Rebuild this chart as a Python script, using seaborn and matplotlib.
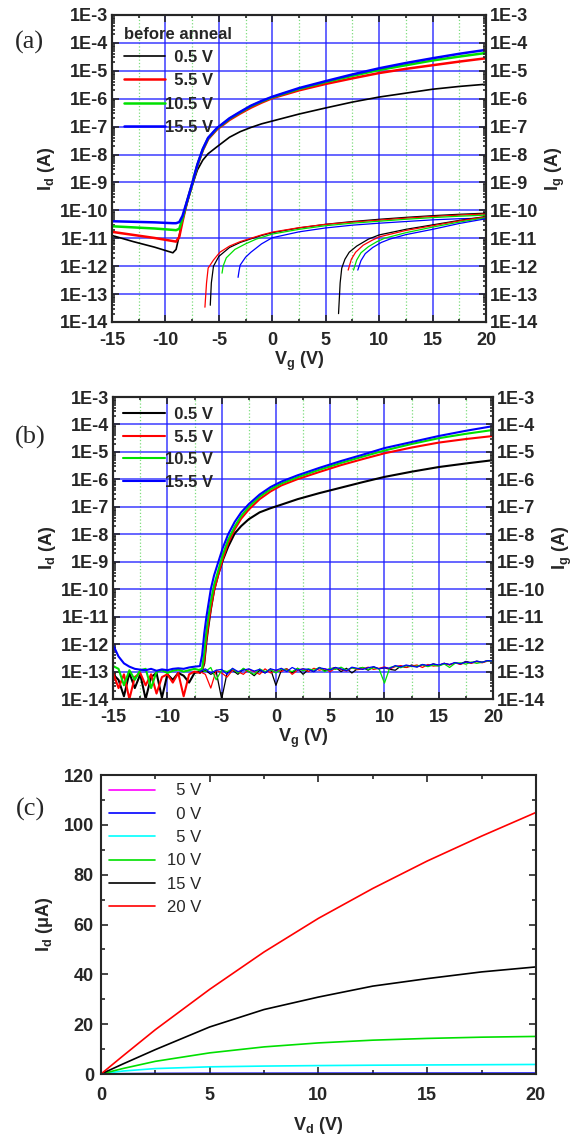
import numpy as np
import matplotlib
matplotlib.use("Agg")
import matplotlib.pyplot as plt
import seaborn as sns
from matplotlib.ticker import (MultipleLocator, FixedLocator, FuncFormatter,
                               LogLocator, NullFormatter)

sns.set_style("ticks")
plt.rcParams['font.family'] = ['Liberation Sans', 'DejaVu Sans']
plt.rcParams['font.weight'] = 'bold'
plt.rcParams['axes.unicode_minus'] = False
plt.rcParams['mathtext.fontset'] = 'custom'
plt.rcParams['mathtext.rm'] = 'Liberation Sans:bold'
plt.rcParams['mathtext.it'] = 'Liberation Sans:bold'
plt.rcParams['mathtext.default'] = 'rm'

# ---------------- data: panel (a), log10 of current ----------------
vd_labels = ["  0.5 V", "  5.5 V", "10.5 V", "15.5 V"]
colors4 = ["black", "#ff0000", "#00e000", "#0000ff"]

vg_a = [-15, -13, -11, -9.3, -9, -8.7, -8.4, -8, -7.5, -7, -6.5, -6, -5.2, -4,
        -3, -2, -1, 0, 2.5, 5, 7.5, 10, 12.5, 15, 17.5, 20]
id_a_black = [-10.9, -11.12, -11.32, -11.52, -11.4, -10.9, -10.35, -9.78, -9.12, -8.55,
              -8.2, -7.97, -7.73, -7.38, -7.18, -7.03, -6.9, -6.8, -6.55, -6.33,
              -6.12, -5.94, -5.8, -5.66, -5.56, -5.48]
id_a_red = [-10.77, -10.88, -10.99, -11.1, -11.12, -10.95, -10.4, -9.74, -9.08, -8.39,
            -7.85, -7.45, -7.11, -6.76, -6.53, -6.32, -6.14, -5.98, -5.7, -5.47,
            -5.27, -5.08, -4.93, -4.8, -4.67, -4.55]
id_a_green = [-10.57, -10.61, -10.65, -10.7, -10.71, -10.66, -10.3, -9.72, -9.07, -8.37,
              -7.82, -7.42, -7.08, -6.72, -6.49, -6.27, -6.1, -5.95, -5.65, -5.4,
              -5.18, -4.97, -4.8, -4.63, -4.49, -4.36]
id_a_blue = [-10.39, -10.41, -10.43, -10.46, -10.46, -10.42, -10.2, -9.7, -9.05, -8.35,
             -7.8, -7.4, -7.06, -6.7, -6.47, -6.25, -6.08, -5.93, -5.62, -5.37,
             -5.13, -4.91, -4.72, -4.55, -4.39, -4.25]

# gate current, first branch (sign change near -6 V)
ig1_black_x = [-5.8, -5.7, -5.5, -5.0, -4, -3, -2, -1, 0, 2.5, 5, 7.5, 10, 12.5, 15, 17.5, 20]
ig1_black_y = [-13.4, -12.6, -12.0, -11.65, -11.33, -11.15, -11.02, -10.9, -10.8, -10.63,
               -10.5, -10.4, -10.32, -10.25, -10.19, -10.14, -10.1]
ig1_red_x = [-6.3, -6.15, -6.0, -5.5, -4.9, -4, -3, -2, -1, 0, 2.5, 5, 7.5, 10, 12.5, 15, 17.5, 20]
ig1_red_y = [-13.47, -12.6, -12.07, -11.78, -11.5, -11.28, -11.12, -11.0, -10.88, -10.78,
             -10.62, -10.5, -10.42, -10.35, -10.28, -10.22, -10.17, -10.13]
ig1_green_x = [-4.7, -4.6, -4.3, -3.5, -2.5, -1.5, 0, 2.5, 5, 7.5, 10, 12.5, 15, 17.5, 20]
ig1_green_y = [-12.25, -12.0, -11.7, -11.4, -11.2, -11.03, -10.85, -10.68, -10.55, -10.46,
               -10.39, -10.32, -10.26, -10.21, -10.17]
ig1_blue_x = [-3.2, -3.1, -3.0, -2.5, -2, -1, 0, 2.5, 5, 7.5, 10, 12.5, 15, 17.5, 20]
ig1_blue_y = [-12.4, -12.15, -11.96, -11.68, -11.5, -11.2, -10.98, -10.77, -10.63, -10.53,
              -10.46, -10.4, -10.34, -10.3, -10.28]

# gate current, second branch (sign change near 6-8 V)
ig2_black_x = [6.2, 6.35, 6.5, 6.8, 7.2, 7.9, 9, 10, 12.5, 15, 17.5, 20]
ig2_black_y = [-13.7, -12.6, -12.07, -11.75, -11.5, -11.28, -11.03, -10.88, -10.68,
               -10.52, -10.36, -10.22]
ig2_red_x = [7.1, 7.4, 7.8, 8.5, 9.3, 10, 12.5, 15, 17.5, 20]
ig2_red_y = [-12.14, -11.75, -11.5, -11.25, -11.08, -10.95, -10.72, -10.55, -10.38, -10.23]
ig2_green_x = [7.6, 7.9, 8.3, 9.0, 9.8, 10.5, 12.5, 15, 17.5, 20]
ig2_green_y = [-12.14, -11.78, -11.52, -11.3, -11.12, -11.0, -10.8, -10.6, -10.42, -10.26]
ig2_blue_x = [8.0, 8.3, 8.7, 9.4, 10.2, 11, 12.5, 15, 17.5, 20]
ig2_blue_y = [-12.14, -11.8, -11.55, -11.33, -11.15, -11.03, -10.87, -10.68, -10.47, -10.3]

# ---------------- data: panel (b), log10 of current ----------------
vg_b_floor = [-15, -14.5, -14, -13.5, -13, -12.5, -12, -11.5, -11, -10.5, -10, -9.5,
              -9, -8.5, -8, -7.5, -7]
vg_b_rise = [-6.8, -6.6, -6.4, -6.2, -6.0, -5.7, -5.3, -4.9, -4.4, -3.8, -3.2, -2.5,
             -1.5, -0.5, 0.5, 2, 4, 6, 8, 10, 12.5, 15, 17.5, 20]

id_b_black = ([-13.1, -13.3, -13.9, -13.05, -13.6, -13.1, -14.0, -13.2, -13.05, -13.95,
               -13.1, -13.3, -13.05, -13.15, -13.4, -13.05, -13.0]
              + [-12.95, -12.7, -11.9, -11.3, -10.75, -10.05, -9.45, -8.95, -8.45, -7.97,
                 -7.7, -7.45, -7.2, -7.05, -6.92, -6.72, -6.5, -6.3, -6.1, -5.91,
                 -5.72, -5.55, -5.42, -5.3])
id_b_red = ([-13.05, -13.6, -13.1, -14.0, -13.2, -13.05, -13.5, -13.1, -13.8, -13.2,
             -13.1, -13.4, -13.05, -13.9, -13.1, -13.0, -13.05]
            + [-12.95, -12.6, -11.8, -11.2, -10.7, -10.05, -9.45, -8.9, -8.32, -7.82,
               -7.43, -7.1, -6.72, -6.44, -6.22, -5.99, -5.73, -5.48, -5.26, -5.05,
               -4.84, -4.66, -4.53, -4.42])
id_b_green = ([-12.8, -12.9, -13.5, -12.95, -13.3, -12.95, -12.9, -13.6, -13.0, -12.95,
               -13.05, -12.97, -12.93, -13.0, -12.95, -12.9, -12.95]
              + [-12.9, -12.3, -11.5, -10.95, -10.45, -9.85, -9.3, -8.75, -8.2, -7.72,
                 -7.33, -7.0, -6.63, -6.36, -6.15, -5.92, -5.65, -5.4, -5.17, -4.95,
                 -4.71, -4.5, -4.34, -4.2])
id_b_blue = ([-12.03, -12.45, -12.7, -12.82, -12.9, -12.93, -12.95, -12.9, -12.97, -12.92,
              -12.95, -12.9, -12.88, -12.9, -12.85, -12.82, -12.8]
             + [-12.4, -11.6, -11.0, -10.5, -10.0, -9.5, -9.0, -8.5, -8.0, -7.55,
                -7.2, -6.9, -6.55, -6.28, -6.08, -5.85, -5.58, -5.33, -5.1, -4.86,
                -4.64, -4.42, -4.23, -4.06])

vg_b_ig = [-7 + 0.5 * i for i in range(55)]
ig_b_black = [-13.05, -12.95, -13.1, -13.0, -14.0, -13.05, -12.95, -13.1, -12.9, -13.0,
              -13.15, -12.95, -13.05, -12.9, -13.5, -12.95, -12.9, -13.05, -12.88, -13.1,
              -12.92, -13.0, -12.85, -12.97, -12.9, -12.85, -13.0, -12.88, -13.05, -12.9,
              -12.85, -12.95, -12.83, -12.9, -12.86, -12.92, -12.95, -12.8, -12.85, -12.76,
              -12.82, -12.75, -12.8, -12.72, -12.78, -12.7, -12.75, -12.68, -12.72, -12.63,
              -12.68, -12.62, -12.66, -12.6, -12.62]
ig_b_red = [-13.0, -13.1, -13.6, -12.95, -13.05, -13.2, -12.95, -13.0, -13.1, -12.92,
            -13.0, -13.1, -12.9, -13.05, -12.95, -13.0, -12.9, -13.1, -12.95, -12.9,
            -13.0, -12.88, -12.95, -12.9, -13.0, -12.87, -12.92, -12.98, -12.86, -12.93,
            -12.9, -12.84, -12.92, -12.88, -12.83, -12.9, -12.82, -12.78, -12.85, -12.8,
            -12.76, -12.85, -12.74, -12.8, -12.78, -12.7, -12.76, -12.68, -12.74, -12.66,
            -12.7, -12.64, -12.68, -12.62, -12.64]
ig_b_green = [-12.9, -13.0, -12.85, -13.3, -12.95, -13.0, -12.9, -13.05, -12.88, -13.0,
              -13.1, -12.9, -13.0, -12.92, -13.05, -12.9, -12.95, -13.0, -12.88, -12.97,
              -12.9, -12.95, -12.85, -13.0, -12.88, -12.92, -12.84, -12.95, -12.87, -12.9,
              -12.85, -12.92, -12.86, -12.9, -13.42, -12.85, -12.8, -12.86, -12.78, -12.82,
              -12.8, -12.75, -12.82, -12.76, -12.8, -12.72, -12.85, -12.7, -12.68, -12.73,
              -12.65, -12.7, -12.66, -12.61, -12.63]
ig_b_blue = [-13.0, -12.9, -13.05, -12.95, -12.92, -13.1, -12.88, -13.0, -12.95, -12.9,
             -12.98, -12.92, -13.05, -12.9, -12.95, -12.88, -13.0, -12.85, -12.95, -12.9,
             -12.92, -13.0, -12.86, -12.9, -12.94, -12.85, -12.9, -12.97, -12.84, -12.88,
             -12.92, -12.86, -12.82, -12.9, -12.85, -12.88, -12.78, -12.83, -12.76, -12.8,
             -12.84, -12.74, -12.78, -12.72, -12.76, -12.7, -12.74, -12.67, -12.72, -12.65,
             -12.68, -12.62, -12.66, -12.6, -12.62]

# ---------------- data: panel (c), output curves (uA) ----------------
vd_c = [0, 1, 2.5, 5, 7.5, 10, 12.5, 15, 17.5, 20]
vg_labels_c = ["  5 V", "  0 V", "  5 V", "10 V", "15 V", "20 V"]
colors_c = ["#ff00ff", "#0000ff", "#00ffff", "#00e000", "black", "#ff0000"]
id_c = [
    [0, 0.01, 0.02, 0.03, 0.03, 0.03, 0.03, 0.03, 0.03, 0.03],
    [0, 0.15, 0.25, 0.3, 0.32, 0.34, 0.35, 0.36, 0.37, 0.38],
    [0, 1.2, 2.2, 2.9, 3.2, 3.4, 3.55, 3.65, 3.75, 3.85],
    [0, 2.2, 5.1, 8.5, 10.9, 12.5, 13.6, 14.3, 14.8, 15.1],
    [0, 4.0, 9.8, 18.9, 25.9, 30.9, 35.3, 38.3, 41.0, 43.0],
    [0, 7.2, 17.8, 34, 49, 62.5, 74.5, 85.5, 95.5, 105],
]

fig = plt.figure(figsize=(5.8, 11.35), dpi=100)


def style_log(ax, ax2):
    for a in (ax, ax2):
        a.set_yscale('log')
        a.set_ylim(1e-14, 1e-3)
        a.yaxis.set_major_locator(FixedLocator(10.0 ** np.arange(-14, -2)))
        a.yaxis.set_minor_locator(LogLocator(base=10, subs=np.arange(2, 10), numticks=40))
        a.yaxis.set_major_formatter(FuncFormatter(lambda v, p: "1E%d" % round(np.log10(v))))
        a.yaxis.set_minor_formatter(NullFormatter())
        a.tick_params(which='both', direction='in', width=1.2, labelsize=13, pad=3)
        a.tick_params(which='major', length=5)
        a.tick_params(which='minor', length=2.5)
    ax.set_xlim(-15, 20)
    ax.xaxis.set_major_locator(MultipleLocator(5))
    ax.xaxis.set_minor_locator(MultipleLocator(2.5))
    ax.tick_params(axis='x', which='both', top=True, pad=7)
    ax.grid(which='major', color='#1a1aff', lw=1.1, alpha=0.85)
    ax.grid(which='minor', axis='x', color='#7ddc7d', ls=':', lw=0.9)
    for a in (ax, ax2):
        for s in a.spines.values():
            s.set_linewidth(1.5)
    ax.set_xlabel("V$_g$ (V)", fontsize=13, fontweight='bold', labelpad=1)
    ax.set_ylabel("I$_d$ (A)", fontsize=13, fontweight='bold', labelpad=2)
    ax2.set_ylabel("I$_g$ (A)", fontsize=13, fontweight='bold', labelpad=4)


def logline(ax, x, y, color, lw):
    sns.lineplot(x=x, y=np.power(10.0, y), color=color, lw=lw, ax=ax, legend=False)


# ---------------- panel (a) ----------------
ax_a = fig.add_axes([0.193, 0.7163, 0.645, 0.2705])
ax_a2 = ax_a.twinx()
for ys, c, lw in zip([id_a_black, id_a_red, id_a_green, id_a_blue], colors4, [1.2, 1.8, 1.8, 1.8]):
    logline(ax_a, vg_a, ys, c, lw)
for xs, ys, c in zip([ig1_black_x, ig1_red_x, ig1_green_x, ig1_blue_x],
                     [ig1_black_y, ig1_red_y, ig1_green_y, ig1_blue_y], colors4):
    logline(ax_a2, xs, ys, c, 0.9)
for xs, ys, c in zip([ig2_black_x, ig2_red_x, ig2_green_x, ig2_blue_x],
                     [ig2_black_y, ig2_red_y, ig2_green_y, ig2_blue_y], colors4):
    logline(ax_a2, xs, ys, c, 0.9)
style_log(ax_a, ax_a2)
ax_a.legend(ax_a.get_lines()[:4], vd_labels, title="before anneal", loc='upper left',
            frameon=False, alignment='left', handlelength=2.5, handletextpad=0.0,
            labelspacing=0.5, borderaxespad=0.4, borderpad=0.3,
            prop={'size': 12, 'weight': 'bold'},
            title_fontproperties={'size': 12, 'weight': 'bold'})

# ---------------- panel (b) ----------------
ax_b = fig.add_axes([0.195, 0.3841, 0.655, 0.2661])
ax_b2 = ax_b.twinx()
vg_b = vg_b_floor + vg_b_rise
for ys, c in zip([id_b_black, id_b_red, id_b_green, id_b_blue], colors4):
    logline(ax_b, vg_b, ys, c, 1.5)
for ys, c in zip([ig_b_black, ig_b_red, ig_b_green, ig_b_blue], colors4):
    logline(ax_b2, vg_b_ig, ys, c, 0.9)
style_log(ax_b, ax_b2)
ax_b.legend(ax_b.get_lines()[:4], vd_labels, loc='upper left',
            frameon=False, handlelength=2.5, handletextpad=0.0,
            labelspacing=0.45, borderaxespad=0.3, borderpad=0.3,
            prop={'size': 12, 'weight': 'bold'})

# ---------------- panel (c) ----------------
ax_c = fig.add_axes([0.174, 0.0537, 0.75, 0.2634])
for ys, c in zip(id_c, colors_c):
    sns.lineplot(x=vd_c, y=ys, color=c, lw=1.2, ax=ax_c, legend=False)
ax_c.set_xlim(0, 20)
ax_c.set_ylim(0, 120)
ax_c.xaxis.set_major_locator(MultipleLocator(5))
ax_c.xaxis.set_minor_locator(MultipleLocator(2.5))
ax_c.yaxis.set_major_locator(MultipleLocator(20))
ax_c.yaxis.set_minor_locator(MultipleLocator(10))
ax_c.tick_params(which='both', direction='in', top=True, right=True, width=1.2,
                 labelsize=13, pad=5)
ax_c.tick_params(axis='x', pad=9)
ax_c.tick_params(which='major', length=5)
ax_c.tick_params(which='minor', length=3)
for s in ax_c.spines.values():
    s.set_linewidth(1.5)
ax_c.set_xlabel("V$_d$ (V)", fontsize=13, fontweight='bold', labelpad=8)
ax_c.set_ylabel("I$_d$ (μA)", fontsize=13, fontweight='bold', labelpad=6)
ax_c.legend(ax_c.get_lines()[:6], vg_labels_c, loc='upper left', frameon=False,
            handlelength=2.75, handletextpad=0.7, labelspacing=0.5,
            borderaxespad=0.3, borderpad=0.2,
            prop={'size': 12, 'weight': 'normal'})

# panel letters
for x, y, t in [(0.05, 0.963, "(a)"), (0.052, 0.615, "(b)"), (0.052, 0.287, "(c)")]:
    fig.text(x, y, t, family=['Liberation Serif', 'DejaVu Serif'], fontweight='normal',
             fontsize=19, ha='center', va='center')

fig.savefig("out.png", dpi=100)
